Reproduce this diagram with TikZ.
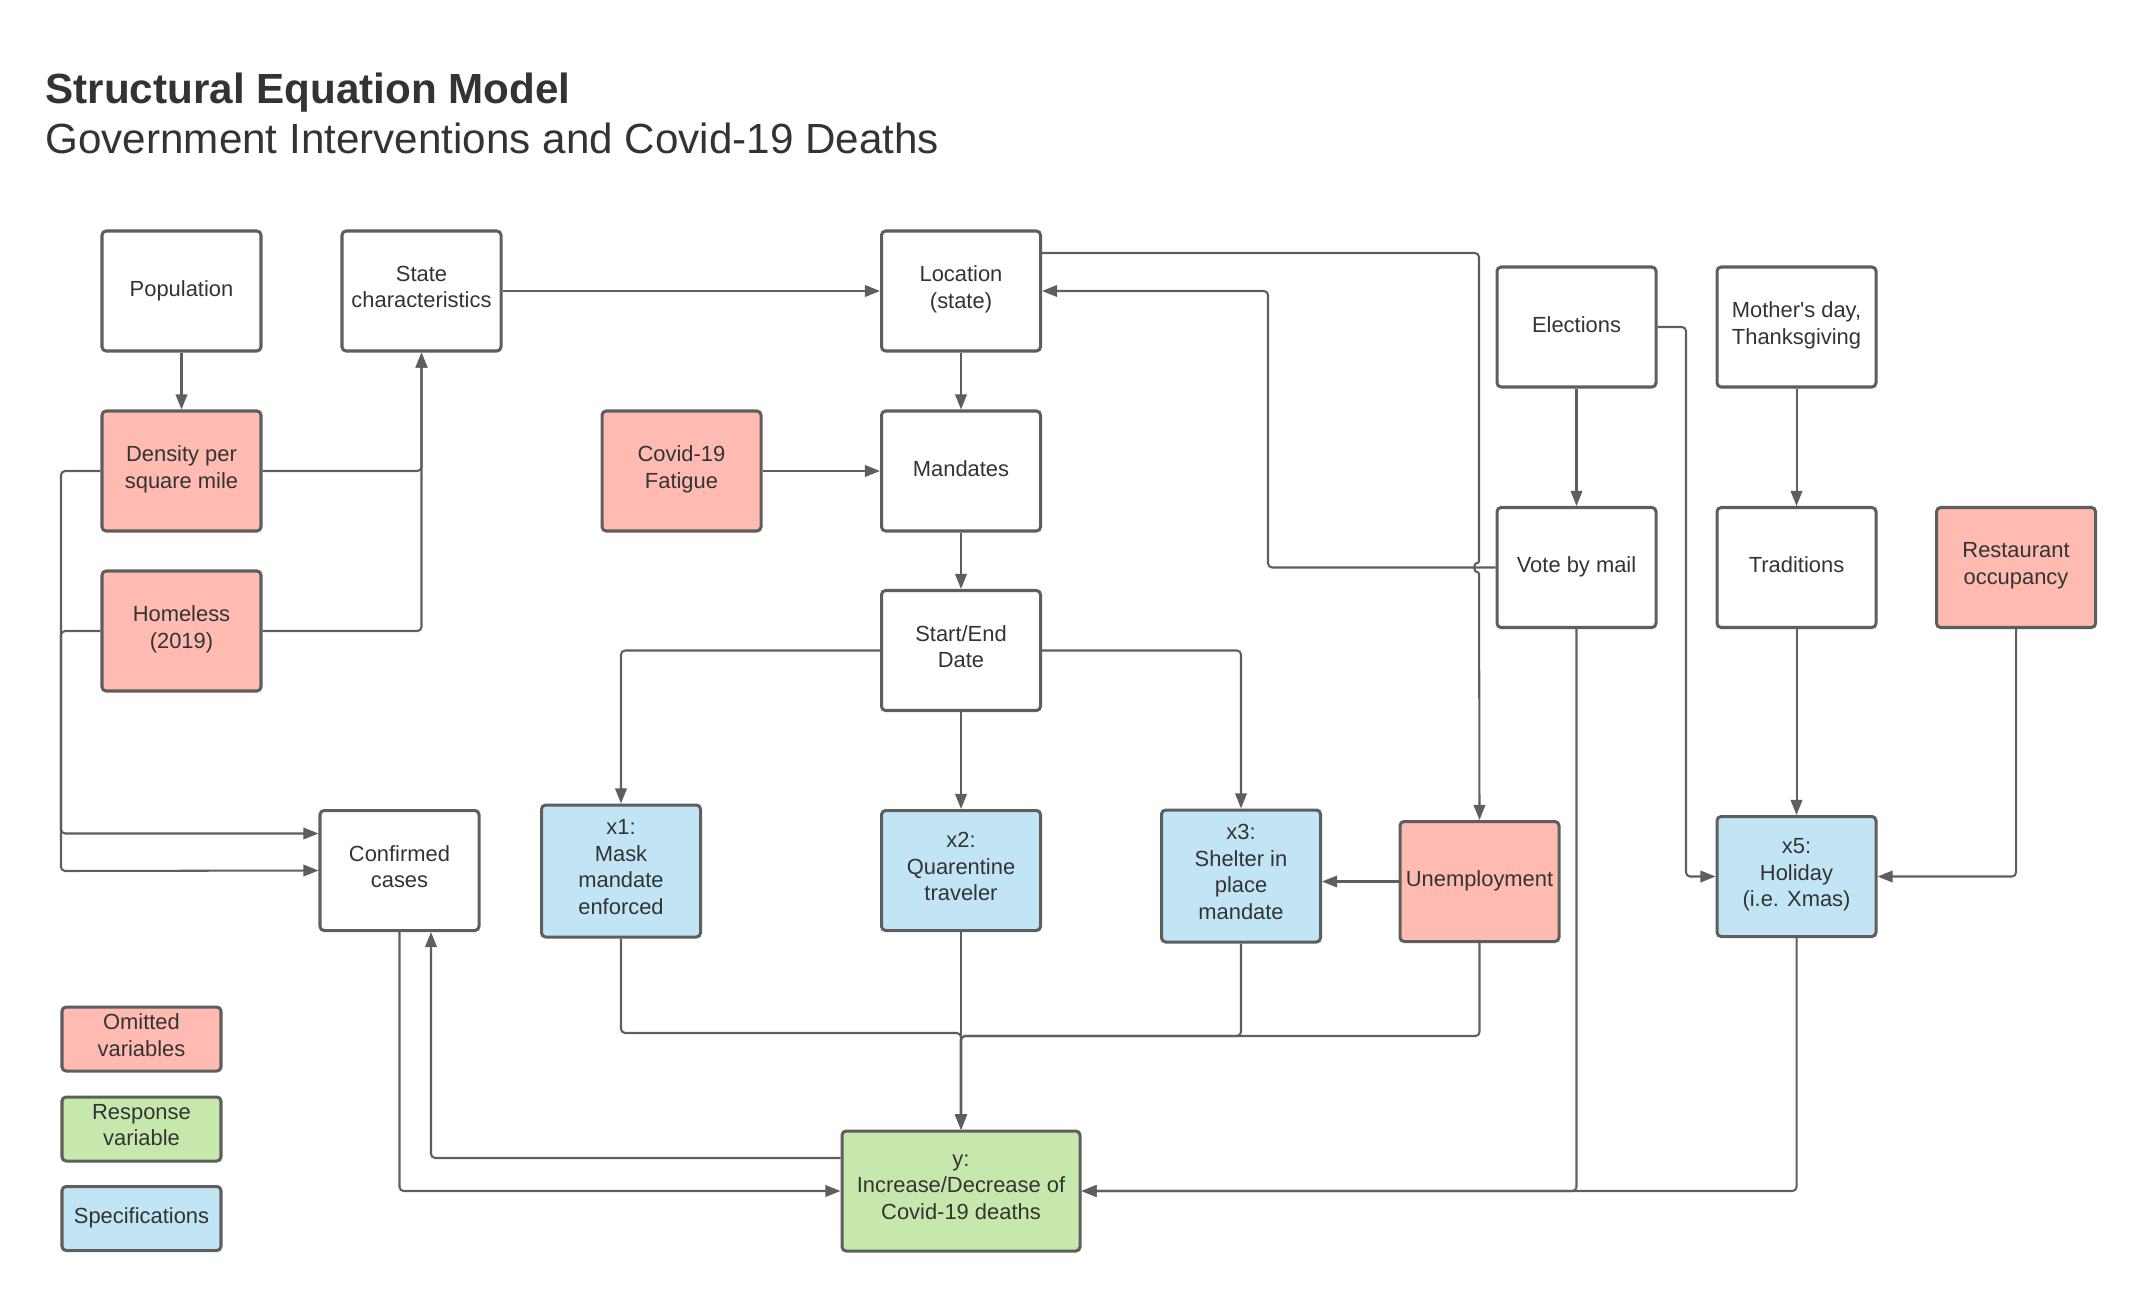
\documentclass[tikz,border=0pt]{standalone}
\usepackage{fontspec}
\setmainfont{Liberation Sans}
\usetikzlibrary{arrows.meta}
\definecolor{linec}{HTML}{5E5E5E}
\definecolor{textc}{HTML}{333333}
\definecolor{pinkc}{HTML}{FFBBB1}
\definecolor{bluec}{HTML}{C2E5F6}
\definecolor{greenc}{HTML}{C7E8AC}
\def\pu{0.365pt}
\newcommand\boxfont{\fontsize{8}{9.7}\selectfont}
\begin{document}
\begin{tikzpicture}[x=0.365pt,y=-0.365pt,
  box/.style={draw=linec, line width=1.1pt, rounded corners=1.5pt, fill=white,
    align=center, text=textc, font=\boxfont, inner sep=1pt,
    minimum width={159*\pu}, minimum height={120*\pu},
    execute at begin node={\strut}, execute at end node={\strut}},
  pinkbox/.style={box, fill=pinkc},
  bluebox/.style={box, fill=bluec},
  greenbox/.style={box, fill=greenc},
  legbox/.style={minimum height={64*\pu}},
  conn/.style={draw=linec, line width=0.75pt, rounded corners=1.5pt},
  arr/.style={conn, -{Triangle[length=5.5pt,width=4.2pt]}},
  titlefont/.style={font=\fontsize{15.4}{18}\selectfont, text=textc, inner sep=0pt, anchor=base west}
]
\useasboundingbox (0,0) rectangle (2137,1291);

% titles
\node[titlefont, font=\fontsize{15.4}{18}\selectfont\bfseries] (t1) at (45,103.5) {Structural Equation Model};
\node[titlefont] (t2) at (45,153.5) {Government Interventions and Covid-19 Deaths};

% nodes
\node[box] (pop) at (181.5,291) {Population};
\node[box] (state) at (421.5,291) {State\\characteristics};
\node[box] (loc) at (961,291) {Location\\(state)};
\node[box] (elec) at (1576.5,327) {Elections};
\node[box] (moth) at (1796.5,327) {Mother\textquotesingle s day,\\Thanksgiving};
\node[pinkbox] (dens) at (181.5,471) {Density per\\square mile};
\node[pinkbox] (fat) at (681.5,471) {Covid-19\\Fatigue};
\node[box] (mand) at (961,471) {Mandates};
\node[box] (vote) at (1576.5,567.5) {Vote by mail};
\node[box] (trad) at (1796.5,567.5) {Traditions};
\node[pinkbox] (rest) at (2016,567.5) {Restaurant\\occupancy};
\node[pinkbox] (home) at (181.5,631) {Homeless\\(2019)};
\node[box] (se) at (961,650.5) {Start/End\\Date};
\node[box] (conf) at (399.5,870.5) {Confirmed\\cases};
\node[bluebox, minimum height={132*\pu}] (x1) at (621,871) {x1:\\Mask\\mandate\\enforced};
\node[bluebox] (x2) at (961,870.5) {x2:\\Quarentine\\traveler};
\node[bluebox, minimum height={132*\pu}] (x3) at (1241,876) {x3:\\Shelter in\\place\\mandate};
\node[pinkbox] (unemp) at (1479.5,881.5) {Unemployment};
\node[bluebox] (x5) at (1796.5,876.5) {x5:\\Holiday\\(i.e. Xmas)};
\node[greenbox, minimum width={238*\pu}] (yb) at (961,1191) {y:\\Increase/Decrease of\\Covid-19 deaths};

% legend
\node[pinkbox, legbox] (leg1) at (141.5,1039) {Omitted\\variables};
\node[greenbox, legbox] (leg2) at (141.5,1129) {Response\\variable};
\node[bluebox, legbox] (leg3) at (141.5,1218.5) {Specifications};

% helper coordinates
\coordinate (lx1) at (61,833.5);
\coordinate (lx2) at (61,871);
\coordinate (lt) at (1041,253);
\coordinate (hopA) at (1479,562.5);
\coordinate (hopB) at (1479,572.5);
\coordinate (vbc) at (1268,291);
\coordinate (ex) at (1686,0);
\coordinate (j1) at (961,1033);
\coordinate (j3) at (961,1036);
\coordinate (yc) at (431,1158);

% connectors
\draw[arr] (pop.south) -- (dens.north);
\draw[arr] (dens.east) -| (state.south);
\draw[arr] (home.east) -| (state.south);
\draw[arr] (state.east) -- (loc.west);
\draw[arr] (loc.south) -- (mand.north);
\draw[arr] (fat.east) -- (mand.west);
\draw[arr] (mand.south) -- (se.north);
\draw[arr] (se.west) -| (x1.north);
\draw[arr] (se.south) -- (x2.north);
\draw[arr] (se.east) -| (x3.north);

% Location -> Unemployment with a hop
\draw[conn] (loc.east |- lt) -| (hopA);
\draw[conn] (hopA) .. controls (1472.3,562.5) and (1472.3,572.5) .. (hopB);
\draw[arr] (hopB) -- (unemp.north);

% Vote by mail -> Location
\draw[arr] (vote.west) -| (vbc) -- (loc.east);

\draw[arr] (elec.south) -- (vote.north);
\draw[arr] (moth.south) -- (trad.north);
\draw[arr] (elec.east) -| (ex |- x5.west) -- (x5.west);
\draw[arr] (trad.south) -- (x5.north);
\draw[arr] (rest.south) |- (x5.east);
\draw[arr] (unemp.west) -- (unemp.west -| x3.east);

% to confirmed cases
\draw[arr] (dens.west) -| (lx1) -- (conf.west |- lx1);
\draw[arr] (home.west) -| (lx2) -- (conf.west);

% to y
\draw[arr] (x1.south) |- (j1) -- (yb.north);
\draw[arr] (x2.south) -- (yb.north);
\draw[arr] (x3.south) |- (j3) -- (yb.north);
\draw[arr] (unemp.south) |- (j3) -- (yb.north);
\draw[arr] (conf.south) |- (yb.west);
\draw[arr] (yb.west |- yc) -| (yc |- conf.south);
\draw[arr] (vote.south) |- (yb.east);
\draw[arr] (x5.south) |- (yb.east);
\end{tikzpicture}
\end{document}
